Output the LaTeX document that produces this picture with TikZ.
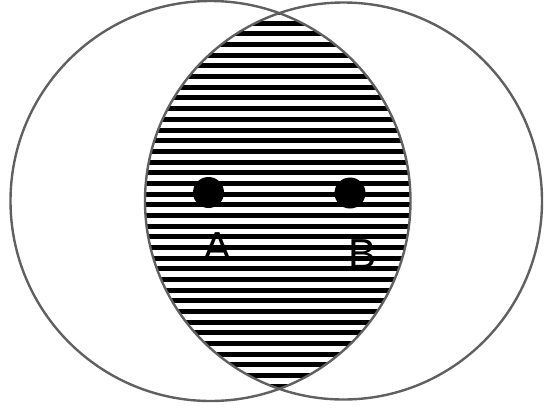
\documentclass[tikz,border=0pt]{standalone}
\usepackage{fontspec}
\setmainfont{Liberation Sans}
\definecolor{rim}{HTML}{606060}
\tikzset{
  rimline/.style={draw=rim, line width=2.4pt},
  hatchline/.style={line width=5pt, black},
  dotmark/.style={circle, fill=black, inner sep=0pt, minimum size=31pt},
  letter/.style={inner sep=0pt, font=\fontsize{42}{42}\selectfont, text=black}
}
\begin{document}
\begin{tikzpicture}[x=1pt,y=-1pt]
\useasboundingbox (0,0) rectangle (544,413);
\coordinate (cl) at (210.5,201);
\coordinate (cr) at (343.5,201);
% hatching in the lens
\begin{scope}
  \clip (cl) circle [radius=200];
  \clip (cr) circle [radius=198.5];
  \foreach \k in {-2,...,36} {
    \draw[hatchline] (120,{23.3+10.67*\k}) -- (430,{23.3+10.67*\k});
  }
\end{scope}
% circles
\draw[rimline] (cl) circle [radius=200];
\draw[rimline] (cr) circle [radius=198.5];
% dots
\node[dotmark] (dotA) at (208.5,192.5) {};
\node[dotmark] (dotB) at (350,193) {};
% labels
\node[letter] (A) at (217.5,247) {A};
\node[letter] (B) at (362.5,254) {B};
\end{tikzpicture}
\end{document}
